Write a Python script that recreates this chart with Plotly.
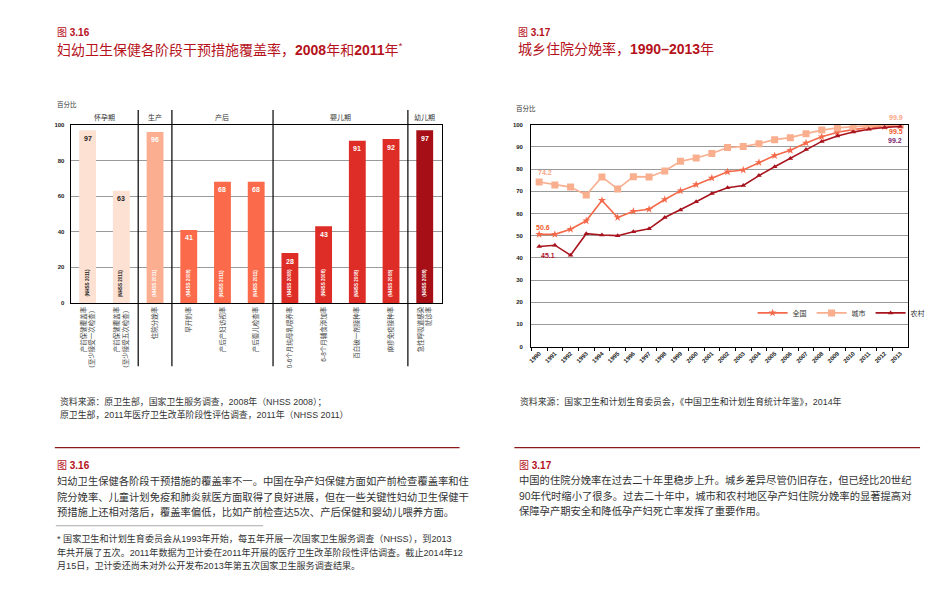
import plotly.graph_objects as go

W, H = 937, 603
FONT = "Liberation Sans, 'Noto Sans CJK SC', sans-serif"
RED = "#B5121B"
TXT = "#333333"

# ---------------- Figure 3.16 data ----------------
bar_labels = [
    "产前保健覆盖率<br>（至少接受一次检查）",
    "产前保健覆盖率<br>（至少接受五次检查）",
    "住院分娩率",
    "早开奶率",
    "产后产妇访视率",
    "产后婴儿检查率",
    "0-6个月纯母乳喂养率",
    "6-8个月辅食添加率",
    "百白破一剂接种率",
    "麻疹免疫接种率",
    "急性呼吸道感染<br>就诊率",
]
bar_values = [97, 63, 96, 41, 68, 68, 28, 43, 91, 92, 97]
bar_sources = ["(NHSS 2011)", "(NHSS 2011)", "(NHSS 2011)", "(NHSS 2008)", "(NHSS 2011)",
               "(NHSS 2011)", "(NHSS 2008)", "(NHSS 2008)", "(NHSS 2008)", "(NHSS 2008)",
               "(NHSS 2008)"]
bar_colors = ["#FDE1D3", "#FDE1D3", "#FCAE91", "#FB6A4A", "#FB6A4A", "#FB6A4A",
              "#DE2D26", "#DE2D26", "#DE2D26", "#DE2D26", "#A50F15"]
bar_text_colors = ["#222222", "#222222"] + ["#FFFFFF"] * 9
stage_names = ["怀孕期", "生产", "产后", "婴儿期", "幼儿期"]
stage_sizes = [2, 1, 3, 4, 1]
bar_yticks = [0, 20, 40, 60, 80, 100]

# ---------------- Figure 3.17 data ----------------
years = ["1990", "1991", "1992", "1993", "1994", "1995", "1996", "1997", "1998", "1999",
         "2000", "2001", "2002", "2003", "2004", "2005", "2006", "2007", "2008", "2009",
         "2010", "2011", "2012", "2013"]
national = [50.6, 50.6, 52.9, 56.7, 65.9, 58.2, 61.0, 61.9, 66.3, 70.2, 73.0, 76.0,
            78.8, 79.6, 83.0, 86.1, 88.5, 91.8, 94.6, 96.6, 97.8, 98.7, 99.2, 99.5]
urban = [74.2, 72.9, 71.9, 68.3, 76.5, 71.0, 76.6, 76.5, 79.2, 83.5, 85.0, 87.0,
         89.7, 90.2, 91.5, 93.3, 94.2, 96.0, 97.6, 98.6, 99.2, 99.6, 99.7, 99.9]
rural = [45.1, 45.7, 41.2, 50.9, 50.3, 50.0, 51.8, 53.1, 58.2, 61.6, 65.3, 69.0,
         71.6, 72.6, 77.1, 81.1, 84.8, 88.8, 92.5, 94.9, 96.7, 98.0, 98.8, 99.2]
series_names = ["全国", "城市", "农村"]
series_colors = ["#F4694A", "#F9AE8E", "#A8141E"]
series_symbols = ["star", "square", "triangle-up"]
series_sizes = [6, 7, 5]
line_yticks = [0, 10, 20, 30, 40, 50, 60, 70, 80, 90, 100]

# ---------------- page text ----------------
para_316 = [
    "妇幼卫生保健各阶段干预措施的覆盖率不一。中国在孕产妇保健方面如产前检查覆盖率和住",
    "院分娩率、儿童计划免疫和肺炎就医方面取得了良好进展，但在一些关键性妇幼卫生保健干",
    "预措施上还相对落后，覆盖率偏低，比如产前检查达5次、产后保健和婴幼儿喂养方面。",
]
para_317 = [
    "中国的住院分娩率在过去二十年里稳步上升。城乡差异尽管仍旧存在，但已经比20世纪",
    "90年代时缩小了很多。过去二十年中，城市和农村地区孕产妇住院分娩率的显著提高对",
    "保障孕产期安全和降低孕产妇死亡率发挥了重要作用。",
]
footnote = [
    "* 国家卫生和计划生育委员会从1993年开始，每五年开展一次国家卫生服务调查（NHSS），到2013",
    "年共开展了五次。2011年数据为卫计委在2011年开展的医疗卫生改革阶段性评估调查。截止2014年12",
    "月15日，卫计委还尚未对外公开发布2013年第五次国家卫生服务调查结果。",
]
src_316 = ["资料来源：原卫生部，国家卫生服务调查，2008年（NHSS 2008）；",
           "原卫生部，2011年医疗卫生改革阶段性评估调查，2011年（NHSS 2011）"]
src_317 = "资料来源：国家卫生和计划生育委员会，《中国卫生和计划生育统计年鉴》，2014年"


def px(x):
    return x / W


def py(y):
    return 1 - y / H


fig = go.Figure()

# bars
fig.add_trace(go.Bar(
    x=list(range(len(bar_values))), y=bar_values, marker=dict(color=bar_colors, line=dict(width=0)),
    width=0.5, showlegend=False, hoverinfo="y", xaxis="x", yaxis="y"))

# lines
for name, vals, col, sym, sz in zip(series_names, [national, urban, rural], series_colors,
                                    series_symbols, series_sizes):
    fig.add_trace(go.Scatter(
        x=years, y=vals, name=name, mode="lines+markers",
        line=dict(color=col, width=1.6),
        marker=dict(symbol=sym, size=sz, color=col, line=dict(width=0)),
        xaxis="x2", yaxis="y2"))

ann = []
shapes = []


def txt(x, y, s, size, color=TXT, anchor="left", weight="normal"):
    ann.append(dict(x=px(x), y=py(y), xref="paper", yref="paper", text=s, showarrow=False,
                    xanchor=anchor, yanchor="middle", align="left",
                    font=dict(family=FONT, size=size, color=color, weight=weight)))


# bar value labels and source labels
for i, (v, s, c) in enumerate(zip(bar_values, bar_sources, bar_text_colors)):
    ann.append(dict(x=i, y=v, xref="x", yref="y", text=str(v), showarrow=False,
                    yanchor="middle", yshift=-8,
                    font=dict(family=FONT, size=7, color=c, weight="bold")))
    ann.append(dict(x=i, y=0, xref="x", yref="y", text=s, showarrow=False, textangle=-90,
                    yanchor="bottom", yshift=4,
                    font=dict(family=FONT, size=4.6, color=c, weight="bold")))

# stage headers and separators
start = 0
for k, (nm, sz) in enumerate(zip(stage_names, stage_sizes)):
    ann.append(dict(x=start + (sz - 1) / 2, y=py(116), xref="x", yref="paper", text=nm,
                    showarrow=False, yanchor="middle",
                    font=dict(family=FONT, size=7, color="#333")))
    end = start + sz
    if k < len(stage_sizes) - 1:
        shapes.append(dict(type="line", xref="x", yref="paper", x0=end - 0.5, x1=end - 0.5,
                           y0=py(367), y1=py(108), line=dict(color="black", width=1.2)))
    start = end

# line chart end labels (category index positions)
first, last = 0, len(years) - 1
ann += [
    dict(x=first, y=urban[0], xref="x2", yref="y2", text=f"{urban[0]:.1f}", showarrow=False,
         xanchor="left", xshift=-3, yshift=9,
         font=dict(family=FONT, size=7, color="#F9A585", weight="bold")),
    dict(x=first, y=national[0], xref="x2", yref="y2", text=f"{national[0]:.1f}", showarrow=False,
         xanchor="left", xshift=-5, yshift=7,
         font=dict(family=FONT, size=7, color="#EE5A2A", weight="bold")),
    dict(x=first, y=rural[0], xref="x2", yref="y2", text=f"{rural[0]:.1f}", showarrow=False,
         xanchor="left", xshift=0, yshift=-9,
         font=dict(family=FONT, size=7, color="#B0102A", weight="bold")),
    dict(x=last, y=urban[-1], xref="x2", yref="y2", text=f"{urban[-1]:.1f}", showarrow=False,
         xanchor="right", xshift=5, yshift=7,
         font=dict(family=FONT, size=7, color="#F9A585", weight="bold")),
    dict(x=last, y=national[-1], xref="x2", yref="y2", text=f"{national[-1]:.1f}", showarrow=False,
         xanchor="right", xshift=5, yshift=-6,
         font=dict(family=FONT, size=7, color="#EE5A2A", weight="bold")),
    dict(x=last, y=rural[-1], xref="x2", yref="y2", text=f"{rural[-1]:.1f}", showarrow=False,
         xanchor="right", xshift=4, yshift=-14,
         font=dict(family=FONT, size=7, color="#7A1F6E", weight="bold")),
]

# page text
txt(52, 30, "图 <b>3.16</b>", 10, RED)
txt(52, 46, "妇幼卫生保健各阶段干预措施覆盖率，<b>2008</b>年和<b>2011</b>年<sup>*</sup>", 14, RED)
txt(52, 103, "百分比", 6.5, "#333")
txt(515, 30, "图 <b>3.17</b>", 10, RED)
txt(515, 46, "城乡住院分娩率，<b>1990–2013</b>年", 14, RED)
txt(513, 107, "百分比", 6.5, "#333")

txt(55, 403, src_316[0], 8.9)
txt(55, 416, src_316[1], 8.9)
txt(517, 403, src_317, 8.9)

shapes.append(dict(type="line", xref="paper", yref="paper", x0=px(52), x1=px(458),
                   y0=py(449), y1=py(449), line=dict(color="#8B1A1A", width=1.3)))
shapes.append(dict(type="line", xref="paper", yref="paper", x0=px(513), x1=px(920),
                   y0=py(449), y1=py(449), line=dict(color="#8B1A1A", width=1.3)))
shapes.append(dict(type="line", xref="paper", yref="paper", x0=px(53), x1=px(261),
                   y0=py(528), y1=py(528), line=dict(color="#AAAAAA", width=1)))

txt(52, 467, "图 <b>3.16</b>", 10, RED)
for j, line in enumerate(para_316):
    txt(52, 483 + j * 15.5, line, 10.3)
for j, line in enumerate(footnote):
    txt(52, 541 + j * 13.7, line, 9.1)
txt(516, 467, "图 <b>3.17</b>", 10, RED)
for j, line in enumerate(para_317):
    txt(516, 482 + j * 15.5, line, 10.3)

fig.update_layout(
    width=W, height=H, margin=dict(l=0, r=0, t=0, b=0), autosize=False,
    paper_bgcolor="white", plot_bgcolor="white",
    font=dict(family=FONT, color=TXT),
    bargap=0.5,
    xaxis=dict(domain=[px(68), px(440)], anchor="y", type="linear", range=[-0.5, 10.5],
               tickmode="array", tickvals=list(range(len(bar_labels))), ticktext=bar_labels,
               tickangle=-90, tickfont=dict(size=6.5, color="#444"),
               showline=True, linecolor="black", linewidth=1.3, mirror=True,
               showgrid=False, zeroline=False, ticks=""),
    yaxis=dict(domain=[py(303), py(123)], anchor="x", range=[0, 100], tickvals=bar_yticks,
               showgrid=True, gridcolor="#9A9A9A", gridwidth=1, zeroline=False,
               showline=True, linecolor="black", linewidth=1.3, mirror=True,
               ticks="outside", ticklen=4, tickcolor="rgba(0,0,0,0)",
               tickfont=dict(size=6, color="#222", weight="bold")),
    xaxis2=dict(domain=[px(530), px(908)], anchor="y2", type="category",
                range=[-0.5, len(years) - 0.5],
                tickangle=-45, tickfont=dict(size=6, color="#222", weight="bold"),
                showline=True, linecolor="black", linewidth=1.3, mirror=True,
                ticks="outside", ticklen=3, tickcolor="black", tickson="boundaries",
                showgrid=False),
    yaxis2=dict(domain=[py(347), py(123)], anchor="x2", range=[0, 100], tickvals=line_yticks,
                showgrid=True, gridcolor="#9A9A9A", gridwidth=1, zeroline=False,
                showline=True, linecolor="black", linewidth=1.3, mirror=True,
                ticks="outside", ticklen=6, tickcolor="rgba(0,0,0,0)",
                tickfont=dict(size=6, color="#222", weight="bold")),
    legend=dict(orientation="h", x=px(752), y=py(313), xanchor="left", yanchor="middle",
                font=dict(size=7, color="#333"), bgcolor="rgba(0,0,0,0)", itemwidth=30,
                tracegroupgap=0),
    annotations=ann, shapes=shapes,
)

fig.write_html("out.html")
